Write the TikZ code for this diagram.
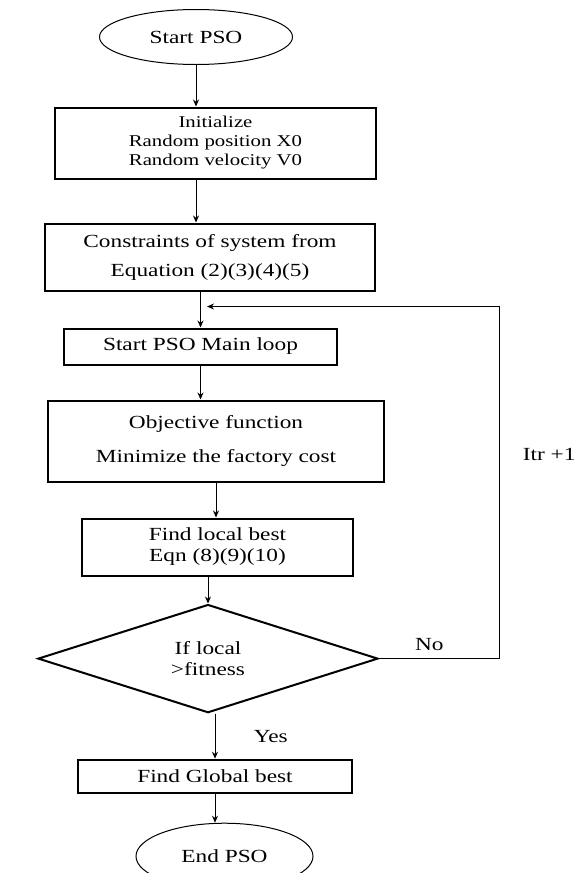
\documentclass[tikz,border=0pt]{standalone}
\usepackage{fontspec}
\setmainfont[FakeStretch=1.26]{Liberation Serif}
\usepackage{tikz}
\usetikzlibrary{shapes.geometric, arrows.meta, positioning, calc}
\tikzset{
  box/.style={rectangle, draw=black, line width=2pt, inner sep=0pt, align=center},
  term/.style={ellipse, draw=black, line width=1pt, inner sep=0pt, align=center},
  decide/.style={diamond, draw=black, line width=2pt, inner sep=0pt, align=center},
  flow/.style={-{Stealth[length=7pt, width=6pt]}, draw=black, line width=1pt},
  small/.style={font=\fontsize{16.5}{19}\selectfont}
}

\begin{document}
\begin{tikzpicture}[x=1pt, y=1pt, font=\fontsize{18.5}{21}\selectfont]
  \useasboundingbox (0,0) rectangle (585,-873);

  \node[term, minimum width=193pt, minimum height=55pt] (start) at (196,-37) {Start PSO};
  \node[box, small, minimum width=321pt, minimum height=71pt, below=41.5pt of start, xshift=19.5pt] (init) {Initialize\\Random position X0\\Random velocity V0};
  \node[box, minimum width=330pt, minimum height=67pt, below=43pt of init, xshift=-5.5pt] (cons) {Constraints of system from\\[8pt]Equation (2)(3)(4)(5)};
  \node[box, minimum width=273pt, minimum height=36pt, below=36pt of cons, xshift=-9.5pt] (loop) {Start PSO Main loop};
  \node[box, minimum width=336pt, minimum height=81pt, below=34pt of loop, xshift=15.5pt] (obj) {Objective function\\[13pt]Minimize the factory cost};
  \node[box, minimum width=271pt, minimum height=57pt, below=35pt of obj, xshift=1.5pt] (local) {Find local best\\Eqn (8)(9)(10)};
  \node[decide, minimum width=340pt, minimum height=105pt, below=27pt of local, xshift=-9.5pt] (dec) {If local\\>fitness};
  \node[box, minimum width=274pt, minimum height=33pt, below=45pt of dec, xshift=7pt] (glob) {Find Global best};
  \node[term, minimum width=177pt, minimum height=66pt, below=29pt of glob, xshift=9.5pt] (end) {End PSO};

  \coordinate[right=120pt of dec.east] (back);
  \coordinate[below=15pt of cons.south, xshift=-3pt] (join);

  \draw[flow] (start.south) -- (start.south |- init.north);
  \draw[flow] (init.south -| start) -- (cons.north -| start);
  \draw[flow] (cons.south -| loop) -- (loop.north);
  \draw[flow] (loop.south) -- (loop.south |- obj.north);
  \draw[flow] (obj.south) -- (obj.south |- local.north);
  \draw[flow] (local.south -| dec) -- (dec.north);
  \draw[flow] (dec.south -| glob) -- node[right=35pt] {Yes} (glob.north);
  \draw[flow] (glob.south) -- (glob.south |- end.north);
  \draw[flow] (dec.east) -- node[pos=0.42, above=4pt] {No} (back) |- node[pos=0.29, right=20pt] {Itr +1} (join);
\end{tikzpicture}
\end{document}
